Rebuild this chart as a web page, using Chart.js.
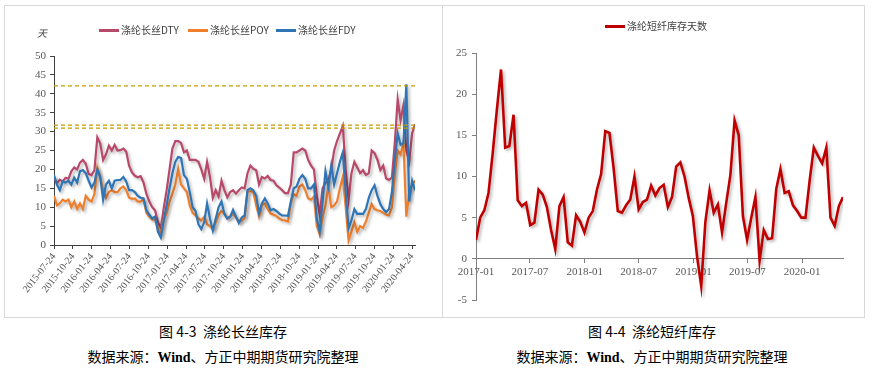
<!DOCTYPE html>
<html>
<head>
<meta charset="utf-8">
<script src="https://cdn.jsdelivr.net/npm/chart.js@4.4.1/dist/chart.umd.min.js"></script>
<style>
  body { margin:0; background:#fff; width:872px; height:373px; overflow:hidden; position:relative; font-family:"Noto Sans CJK SC", sans-serif; }
  .frame { position:absolute; left:4px; top:5px; width:859px; height:311px; border:1px solid #d9d9d9; }
  .divider { position:absolute; left:442px; top:5px; width:1px; height:312px; background:#d9d9d9; }
  canvas { position:absolute; }
  .lg { position:absolute; font-size:10px; color:#404040; white-space:nowrap; line-height:12px; }
  .sw { display:inline-block; width:20px; height:3px; vertical-align:middle; margin-right:2px; position:relative; top:-1px; }
  .unit { position:absolute; left:37px; top:25px; font-size:10px; color:#404040; font-style:italic; }
  .cap { position:absolute; width:440px; text-align:center; font-size:14px; line-height:20px; color:#000; }
  .w { font-family:"Liberation Serif", serif; font-weight:bold; }
</style>
</head>
<body>
<div class="frame"></div>
<div class="divider"></div>

<canvas id="filament" width="436" height="310" style="left:5px;top:6px"></canvas>
<canvas id="staple" width="420" height="311" style="left:443px;top:6px"></canvas>

<div class="unit">天</div>
<div class="lg" style="left:99px;top:24px"><span class="sw" style="background:#B8496A"></span>涤纶长丝DTY</div>
<div class="lg" style="left:188px;top:24px"><span class="sw" style="background:#F07F2C"></span>涤纶长丝POY</div>
<div class="lg" style="left:276px;top:24px"><span class="sw" style="background:#2E75B6"></span>涤纶长丝FDY</div>
<div class="lg" style="left:605px;top:20px"><span class="sw" style="background:#C00000"></span>涤纶短纤库存天数</div>

<div class="cap" style="left:3px;top:321px">图 4-3&nbsp;&nbsp;涤纶长丝库存</div>
<div class="cap" style="left:3px;top:346px">数据来源：<span class="w">Wind</span>、方正中期期货研究院整理</div>
<div class="cap" style="left:432px;top:321px">图 4-4&nbsp;&nbsp;涤纶短纤库存</div>
<div class="cap" style="left:432px;top:346px">数据来源：<span class="w">Wind</span>、方正中期期货研究院整理</div>

<script>
const DAY = 864e5

// 涤纶长丝 (left chart), one reading every two weeks from 2015-07-24
const filamentStart = '2015-07-24'
const filamentTicks = ['2015-07-24','2015-10-24','2016-01-24','2016-04-24','2016-07-24','2016-10-24',
  '2017-01-24','2017-04-24','2017-07-24','2017-10-24','2018-01-24','2018-04-24','2018-07-24',
  '2018-10-24','2019-01-24','2019-04-24','2019-07-24','2019-10-24','2020-01-24','2020-04-24']
const dty = [18,16.3,17.3,16.8,17.8,17.5,19.5,20.5,20,21.8,
  22.5,21.5,18.8,18.5,19.8,28.5,26.9,22.5,24,26.3,
  25,26.5,25,25.1,25.5,24.7,21,19.2,18.3,17.9,
  18.2,16.5,13.5,11.5,10,9.1,6,4.5,9.8,14.5,
  20,25.5,27.5,27.5,27,24.5,25,22.5,22.5,22.5,
  22,20,17.5,22,18,12.5,14.5,12.8,17,14.5,
  12.6,14,14.5,13.6,14.5,15.2,15,19,21,20.2,
  19.8,16,18,17.6,18.3,17.2,17,15.8,15.2,14.5,
  13.7,13.7,16,24.5,24.5,25,25.5,25,22.5,21,
  20,13,8,15,16.5,17,20,25,27.5,29.5,
  31.5,20,12,19,22,20.5,19,19.8,18.5,19,
  25,24.3,22.5,19.8,21,17.6,17.2,17.8,27,38.5,
  33,37,25,22,29.5,32]
const poy = [13,10.5,11,12,11.5,12,10,11.5,9.5,11,
  9.5,13,12,11.5,13.5,20.5,18,14.5,12.5,14,
  14.5,14,14,15,15.5,14.5,12.5,12.2,12.3,11.5,
  11.5,12,8.5,7.5,6.8,6.8,4.5,3,6.8,8.5,
  11.5,13.5,16,20,16,15,14,10.5,8.5,7.8,
  7,6.5,7.5,5.5,5,4.2,6,8,9,8.3,
  7,7.5,8.3,7.3,6.2,6.5,7.2,14,14.3,14,
  10.5,7.5,10.5,11,9.5,8.3,8,7.7,7,6.6,
  6.5,6.2,11,13.5,13,15.5,16,14.5,12.3,12,
  12.8,5,2.8,7.5,10.5,15.5,10,10.5,11.5,15,
  18,10,1.2,3.5,6,3.5,5,4.5,6.2,8.5,
  10.8,9.5,9.2,9,8.5,8,7.8,10,19,25,
  24,27,7.5,14,16,17]
const fdy = [18.5,16,14.5,16.8,16.5,17,16,17.8,16.5,19.5,
  19.8,19,17,15.2,16.5,20,18,12,16,17,
  15,17,17.2,17.2,18,16.8,14.5,14.5,14,13,
  12.5,12.3,9.2,8,7,7.5,3.5,2,6.5,10.5,
  15,19,22,23.3,23,18.5,17.5,14,10,9,
  5.5,4.2,6,11,7,3.8,7,10,11.5,8.2,
  7,7.5,9.3,7.5,5.8,7.3,7.8,14.5,15,14.5,
  13,8.5,11,12.3,11,9.2,9.5,9,8.3,7.8,
  7.8,7.7,11.5,15,15.5,17.5,18.5,17.5,15,15,
  16,7,3.5,11.5,19.5,15.5,21,16,19,22,
  24.5,14,4.5,6.5,9.5,8.2,8.3,8.2,9.5,12.5,
  14.5,15.8,13,10.8,9.5,8.7,9.5,14,22.5,29.5,
  26.5,27,42.5,11.5,17,14.5]
const refLevels = [42.1, 31.7, 30.9]

// 涤纶短纤库存天数 (right chart), one reading every two weeks from 2017-01-01
const stapleStart = '2017-01-01'
const stapleTicks = ['2017-01','2017-07','2018-01','2018-07','2019-01','2019-07','2020-01']
const stapleDays = [2.3,5,5.9,8,12.8,18.1,23,13.5,13.7,17.5,
  7.1,6.4,6.8,4.1,4.4,8.4,7.8,6.3,3.5,1.2,
  6.4,7.5,2,1.6,5.3,4.5,3.2,5,5.8,8.4,
  10.3,15.5,15.3,11,5.8,5.6,6.5,7.2,10,6,
  6.9,7.2,8.9,7.7,8.6,9,6.3,7.5,11.2,11.7,
  10,7.4,5.2,0.3,-3.3,4.5,8.3,5.6,6.6,3.2,
  6.8,10.2,16.8,15,5.2,2.3,5,7.5,-0.2,3.5,
  2.4,2.5,8.5,10.9,8,8.2,6.5,5.8,5,5,
  9.5,13.5,12.5,11.6,13.5,5,4,6.4,7.5]

const daysFrom = (start, d) => Math.round((Date.parse(d) - Date.parse(start)) / DAY)
const biweekly = (vals) => vals.map((v, i) => ({ x: i * 14, y: v }))

const lineShadow = {
  id: 'lineShadow',
  beforeDatasetDraw(chart, args) {
    if (chart.data.datasets[args.index].noShadow) return
    const c = chart.ctx
    c.save()
    c.shadowColor = 'rgba(0,0,0,0.28)'
    c.shadowBlur = 3
    c.shadowOffsetX = 2
    c.shadowOffsetY = 2
  },
  afterDatasetDraw(chart, args) {
    if (chart.data.datasets[args.index].noShadow) return
    chart.ctx.restore()
  }
}

const tickFont = (size) => ({ family: 'Liberation Serif', size: size })

window.onload = () => {
  const fTickDays = filamentTicks.map((d) => daysFrom(filamentStart, d))
  const fMax = (dty.length - 1) * 14

  const series = (label, vals, color, order) => ({
    label, data: biweekly(vals), borderColor: color, borderWidth: 2.2,
    pointRadius: 0, tension: 0, order
  })
  const refSets = refLevels.map((v) => ({
    label: 'ref', data: [{ x: 0, y: v }, { x: fMax, y: v }],
    borderColor: '#C89B00', borderWidth: 1.3, borderDash: [4, 3],
    pointRadius: 0, order: 0, noShadow: true
  }))

  new Chart(document.getElementById('filament'), {
    type: 'line',
    data: {
      datasets: [
        series('涤纶长丝DTY', dty, '#B8496A', 3),
        series('涤纶长丝POY', poy, '#F07F2C', 2),
        series('涤纶长丝FDY', fdy, '#2E75B6', 1),
        ...refSets
      ]
    },
    options: {
      responsive: false,
      animation: false,
      layout: { padding: { left: 0, right: 26, top: 50, bottom: 0 } },
      plugins: { legend: { display: false }, tooltip: { enabled: false } },
      scales: {
        x: {
          type: 'linear', min: 0, max: fMax,
          afterBuildTicks: (s) => { s.ticks = fTickDays.map((v) => ({ value: v })) },
          afterFit: (s) => { s.height = 71 },
          grid: { drawOnChartArea: false, tickLength: 4, color: '#404040' },
          border: { color: '#404040' },
          ticks: {
            autoSkip: false, minRotation: 52, maxRotation: 52, padding: 2,
            font: tickFont(10), color: '#595959',
            callback: (v, i) => filamentTicks[i]
          }
        },
        y: {
          min: 0, max: 50,
          afterFit: (s) => { s.width = 49 },
          grid: { drawOnChartArea: false, tickLength: 4, color: '#404040' },
          border: { color: '#404040' },
          ticks: { stepSize: 5, padding: 4, font: tickFont(11), color: '#595959' }
        }
      }
    },
    plugins: [lineShadow]
  })

  const sTickDays = stapleTicks.map((d) => daysFrom(stapleStart, d + '-01'))
  const sMax = (stapleDays.length - 1) * 14

  new Chart(document.getElementById('staple'), {
    type: 'line',
    data: {
      datasets: [{
        label: '涤纶短纤库存天数', data: biweekly(stapleDays),
        borderColor: '#C00000', borderWidth: 2.6, pointRadius: 0, tension: 0
      }]
    },
    options: {
      responsive: false,
      animation: false,
      layout: { padding: { left: 0, right: 20, top: 47, bottom: 17 } },
      plugins: { legend: { display: false }, tooltip: { enabled: false } },
      scales: {
        x: {
          type: 'linear', min: 0, max: sMax, position: { y: 0 },
          afterBuildTicks: (s) => { s.ticks = sTickDays.map((v) => ({ value: v })) },
          grid: { drawOnChartArea: false, tickLength: 4, color: '#7f7f7f' },
          border: { color: '#7f7f7f' },
          ticks: {
            autoSkip: false, maxRotation: 0, padding: 3,
            font: tickFont(11), color: '#595959',
            callback: (v, i) => stapleTicks[i]
          }
        },
        y: {
          min: -5, max: 25,
          afterFit: (s) => { s.width = 33 },
          grid: { drawOnChartArea: false, tickLength: 4, color: '#7f7f7f' },
          border: { color: '#7f7f7f' },
          ticks: { stepSize: 5, padding: 5, font: tickFont(11), color: '#595959' }
        }
      }
    },
    plugins: [lineShadow]
  })
}
</script>
</body>
</html>
